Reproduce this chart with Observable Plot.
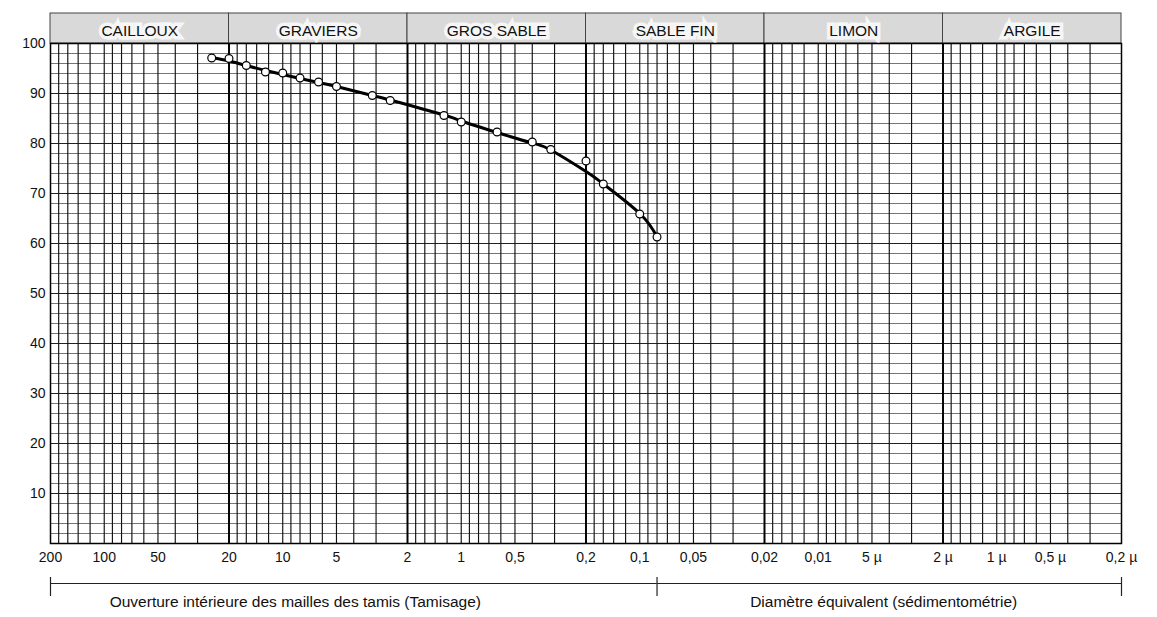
<!DOCTYPE html>
<html>
<head>
<meta charset="utf-8">
<script src="https://cdn.jsdelivr.net/npm/d3@7"></script>
<script src="https://cdn.jsdelivr.net/npm/@observablehq/plot@0.6"></script>
<style>
  html, body { margin: 0; padding: 0; background: #fff; }
  #chart svg { display: block; }
</style>
</head>
<body>
<div id="chart"></div>
<script>
// Measured points (sieve opening in mm, % passing)
const sieveSizes = [25, 20, 16, 12.5, 10, 8, 6.3, 5, 3.15, 2.5, 1.25, 1, 0.63, 0.4, 0.315, 0.2, 0.16, 0.1, 0.08];
const passingPercent = [97.1, 97.0, 95.6, 94.3, 94.1, 93.1, 92.3, 91.4, 89.6, 88.6, 85.6, 84.3, 82.3, 80.3, 78.8, 76.5, 71.9, 65.9, 61.3];

// Hand-drawn fitted curve
const curveSizes = [25, 20, 16, 12.5, 10, 8, 6.3, 5, 3.15, 2.5, 1.25, 1, 0.63, 0.4, 0.315, 0.2, 0.16, 0.1, 0.08];
const curvePercent = [97.2, 96.5, 95.6, 94.6, 93.8, 93.0, 92.2, 91.4, 89.6, 88.7, 85.7, 84.5, 82.2, 80.1, 78.7, 74.4, 71.9, 66.0, 61.3];

// Soil classes (header band)
const classNames = ["CAILLOUX", "GRAVIERS", "GROS SABLE", "SABLE FIN", "LIMON", "ARGILE"];
const classBounds = [200, 20, 2, 0.2, 0.02, 0.002, 0.0002];

// Axis ticks
const xTickValues = [200, 100, 50, 20, 10, 5, 2, 1, 0.5, 0.2, 0.1, 0.05, 0.02, 0.01, 0.005, 0.002, 0.001, 0.0005, 0.0002];
const xTickLabels = ["200", "100", "50", "20", "10", "5", "2", "1", "0,5", "0,2", "0,1", "0,05", "0,02", "0,01", "5 µ", "2 µ", "1 µ", "0,5 µ", "0,2 µ"];
const yTickValues = [10, 20, 30, 40, 50, 60, 70, 80, 90, 100];
const yGridValues = d3.range(2, 100, 2);

// Log-paper grid
const gridDecades = [0.0001, 0.001, 0.01, 0.1, 1, 10, 100];
const gridMultipliers = [1, 1.2, 1.4, 1.6, 1.8, 2, 3, 4, 5, 6, 7, 8, 9];

// Method brackets below the axis
const methodNames = ["Ouverture intérieure des mailles des tamis (Tamisage)", "Diamètre équivalent (sédimentométrie)"];
const methodBounds = [200, 0.08, 0.0002];
const methodLabelAt = [8.5, 0.0043];

// ---- build tables from the arrays ----
const points = sieveSizes.map((d, i) => ({size: d, pct: passingPercent[i]}));
const curve = curveSizes.map((d, i) => ({size: d, pct: curvePercent[i]}));
const classes = classNames.map((n, i) => ({name: n, a: classBounds[i], b: classBounds[i + 1]}));
const xMin = classBounds[classBounds.length - 1], xMax = classBounds[0];
const vGrid = gridDecades.flatMap(d => gridMultipliers.map(m => +(d * m).toPrecision(6)))
  .filter(v => v > xMin * 1.0001 && v < xMax * 0.9999);
const heavyLines = classBounds.slice(1, -1);
const methods = methodNames.map((n, i) => ({name: n, a: methodBounds[i], b: methodBounds[i + 1], at: methodLabelAt[i]}));
const xTicks = xTickValues.map((v, i) => ({v, label: xTickLabels[i]}));

const font = "'Liberation Sans', Arial, Helvetica, sans-serif";

const chart = Plot.plot({
  width: 1157,
  height: 617,
  marginTop: 43,
  marginBottom: 74,
  marginLeft: 50,
  marginRight: 36,
  style: {fontFamily: font, fontSize: "13px", color: "#111", background: "#fff"},
  x: {type: "log", domain: [xMax, xMin], label: null, axis: null},
  y: {domain: [0, 100], label: null, axis: null},
  marks: [
    // header band
    Plot.rect(classes, {x1: "a", x2: "b", y1: 100, y2: 106, fill: "#d9d9d9", stroke: "#444", strokeWidth: 1}),
    Plot.text(classes, {
      x: d => Math.sqrt(d.a * d.b), y: 102.5, text: "name",
      fontSize: 15.5, fill: "#111", stroke: "#f6f6f6", strokeWidth: 7, strokeLinejoin: "miter"
    }),
    // horizontal grid
    Plot.ruleY(yGridValues, {stroke: d => d % 10 === 0 ? "#222" : "#666", strokeWidth: d => d % 10 === 0 ? 1.1 : 0.9}),
    // vertical log grid
    Plot.ruleX(vGrid, {y1: 0, y2: 100, stroke: "#111", strokeWidth: 1.15}),
    Plot.ruleX(heavyLines, {y1: 0, y2: 100, stroke: "#000", strokeWidth: 1.9}),
    // frame
    Plot.frame({stroke: "#000", strokeWidth: 1.5}),
    // fitted curve + measured points
    Plot.line(curve, {x: "size", y: "pct", curve: "natural", stroke: "#000", strokeWidth: 3}),
    Plot.dot(points, {x: "size", y: "pct", r: 3.9, fill: "#fff", stroke: "#000", strokeWidth: 1.2}),
    // axes
    Plot.text(xTicks, {x: "v", y: 0, dy: 14, text: "label", fontSize: 14, fill: "#111"}),
    Plot.axisY({ticks: yTickValues, tickSize: 0, tickPadding: 5, fontSize: 14, label: null}),
    // method brackets
    Plot.ruleY(methods, {x1: "a", x2: "b", y: -8, stroke: "#222", strokeWidth: 1.2}),
    Plot.ruleX(methodBounds, {y1: -6.8, y2: -10.6, stroke: "#222", strokeWidth: 1.2}),
    Plot.text(methods, {x: "at", y: -11.7, text: "name", fontSize: 15.5, fill: "#111"})
  ]
});

document.getElementById("chart").appendChild(chart);
</script>
</body>
</html>
